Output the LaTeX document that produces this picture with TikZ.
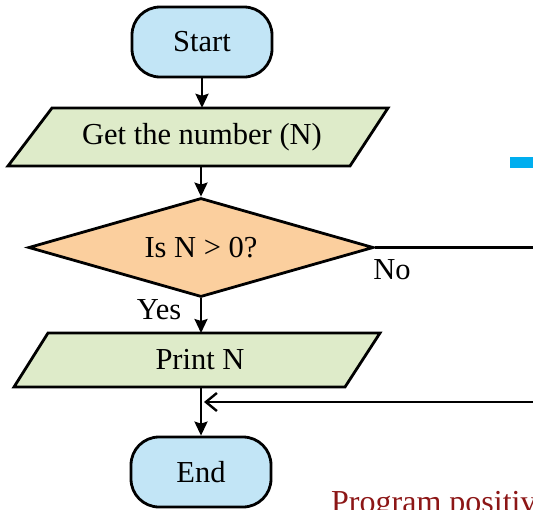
\documentclass[tikz,border=0pt]{standalone}
\usepackage{fontspec}
\setmainfont{Liberation Serif}
\usetikzlibrary{shapes.geometric,arrows.meta}
\definecolor{termfill}{RGB}{194,229,246}
\definecolor{iofill}{RGB}{222,235,201}
\definecolor{decfill}{RGB}{251,207,158}
\definecolor{barblue}{RGB}{0,174,239}
\definecolor{capred}{RGB}{140,22,22}
\tikzset{
  x=1pt, y=-1pt,
  every node/.style={font=\fontsize{30.5}{36}\selectfont, inner sep=0pt},
  term/.style={draw, line width=2.8pt, fill=termfill, rectangle, rounded corners=28pt, minimum width=140pt, minimum height=70pt},
  io/.style={draw, line width=2.8pt, fill=iofill, line join=miter},
  dec/.style={draw, line width=2.8pt, fill=decfill, diamond, aspect=3.48, minimum width=345pt, minimum height=99pt},
  conn/.style={line width=2.4pt},
  arr/.style={conn, -{Stealth[length=14pt,width=13pt,inset=2pt]}},
  openarr/.style={conn, -{Straight Barb[length=11pt,width=18pt,line width=2.4pt]}},
  lbl/.style={font=\fontsize{30.5}{36}\selectfont}
}
\begin{document}
\begin{tikzpicture}
\useasboundingbox (0,0) rectangle (533,509);
\clip (0,0) rectangle (533,509);
% Start
\node[term] (start) at (202,42) {Start};
% Get the number
\path[io] (52,108) -- (388,108) -- (350,166) -- (8,166) -- cycle;
\node[minimum height=58pt] (get) at (202,137) {Get the number (N)};
% decision
\node[dec] (dec) at (201,247.5) {Is N > 0?};
% Print N
\path[io] (48,333) -- (380,333) -- (345,387) -- (14,387) -- cycle;
\node[minimum height=54pt] (print) at (200,360) {Print N};
% End
\node[term] (end) at (201,472) {End};
% connectors
\draw[arr] (start.south) -- (get.north);
\draw[arr] (get.south -| dec.north) -- (dec.north);
\coordinate (printtop) at (201,333);
\draw[arr] (dec.south) -- (printtop);
\coordinate (printbot) at (201,387);
\draw[arr] (printbot) -- (end.north);
\coordinate (noend) at (545,247.5);
\draw[conn] (dec.east) -- (noend);
\coordinate (retstart) at (545,402);
\coordinate (retend) at (204,402);
\draw[openarr] (retstart) -- (retend);
% labels
\node[lbl] (no) at (392,270) {No};
\node[lbl] (yes) at (159,310) {Yes};
% bar and caption
\fill[barblue] (510,157) rectangle (533,168);
\node[text=capred, anchor=base west, font=\fontsize{32}{38}\selectfont] (cap) at (331,512) {Program positive};
\end{tikzpicture}
\end{document}
